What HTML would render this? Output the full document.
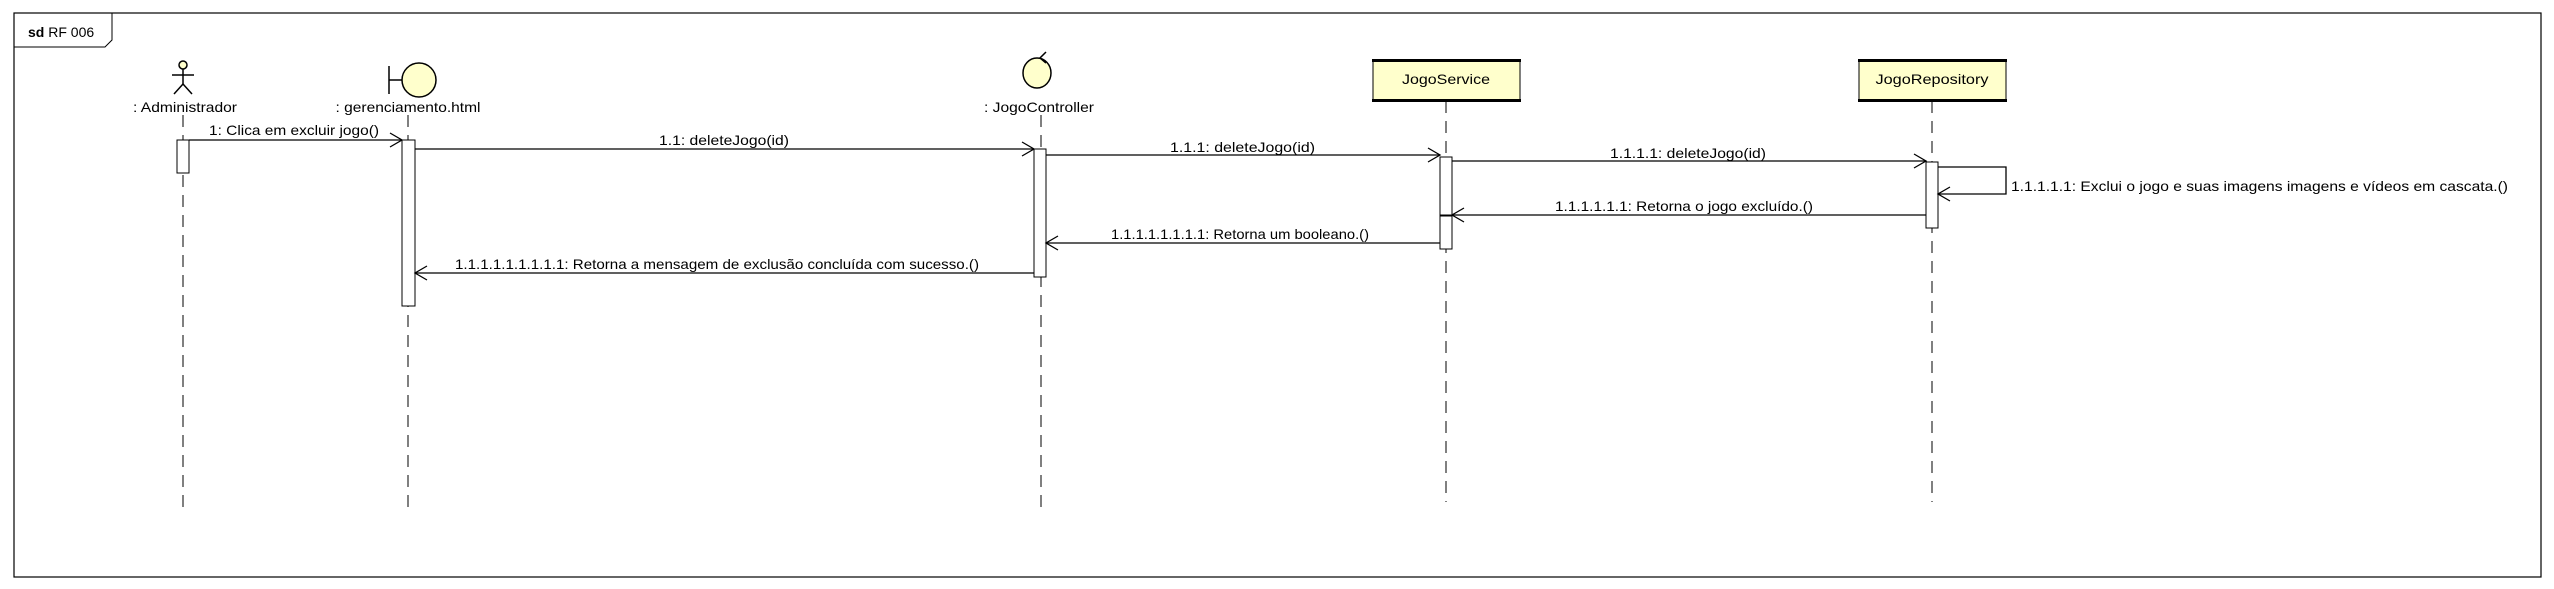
<!DOCTYPE html>
<html><head><meta charset="utf-8"><style>
html,body{margin:0;padding:0;background:#fff;}
svg{display:block;}
text{font-family:"Liberation Sans",sans-serif;font-size:14px;fill:#000;}
</style></head><body>
<svg width="2554" height="589" viewBox="0 0 2554 589" xmlns="http://www.w3.org/2000/svg">
<rect x="0" y="0" width="2554" height="589" fill="#fff"/>
<!-- frame -->
<rect x="14" y="13" width="2527" height="564" fill="none" stroke="#000" stroke-width="1.2"/>
<polyline points="14,47 105,47 112,40 112,13" fill="none" stroke="#000" stroke-width="1"/>
<text x="28" y="37" font-size="14"><tspan font-weight="bold">sd</tspan> RF 006</text>

<!-- lifelines -->
<g stroke="#000" stroke-width="1" stroke-dasharray="12,8" fill="none">
<line x1="183" y1="115" x2="183" y2="513"/>
<line x1="408" y1="115" x2="408" y2="513"/>
<line x1="1041" y1="115" x2="1041" y2="513"/>
<line x1="1446" y1="101" x2="1446" y2="502"/>
<line x1="1932" y1="101" x2="1932" y2="502"/>
</g>

<!-- actor -->
<g stroke="#000" stroke-width="1.5" fill="none">
<circle cx="183" cy="65" r="4" fill="#ffffcc"/>
<line x1="183" y1="69" x2="183" y2="84"/>
<line x1="172" y1="75" x2="194" y2="75"/>
<line x1="183" y1="84" x2="174" y2="94"/>
<line x1="183" y1="84" x2="192" y2="94"/>
</g>
<text x="185" y="112" text-anchor="middle" textLength="104" lengthAdjust="spacingAndGlyphs">: Administrador</text>

<!-- boundary -->
<g stroke="#000" stroke-width="1.5">
<line x1="389" y1="66" x2="389" y2="94"/>
<line x1="389" y1="80" x2="402" y2="80"/>
<circle cx="419" cy="80" r="17" fill="#ffffcc"/>
</g>
<text x="408" y="112" text-anchor="middle" textLength="145" lengthAdjust="spacingAndGlyphs">: gerenciamento.html</text>

<!-- control -->
<g stroke="#000" stroke-width="1.5" fill="#ffffcc">
<ellipse cx="1037" cy="73" rx="14" ry="15"/>
<polyline points="1046,52 1040,58 1046,63" fill="none"/>
</g>
<text x="1039" y="112" text-anchor="middle" textLength="110" lengthAdjust="spacingAndGlyphs">: JogoController</text>

<!-- boxes -->
<rect x="1373" y="60" width="147" height="41" fill="#ffffcc" stroke="#000" stroke-width="1"/>
<rect x="1372" y="59" width="149" height="3" fill="#000"/>
<rect x="1372" y="99" width="149" height="3" fill="#000"/>
<text x="1446" y="84" text-anchor="middle" textLength="88" lengthAdjust="spacingAndGlyphs">JogoService</text>
<rect x="1859" y="60" width="147" height="41" fill="#ffffcc" stroke="#000" stroke-width="1"/>
<rect x="1858" y="59" width="149" height="3" fill="#000"/>
<rect x="1858" y="99" width="149" height="3" fill="#000"/>
<text x="1932" y="84" text-anchor="middle" textLength="113" lengthAdjust="spacingAndGlyphs">JogoRepository</text>

<!-- activations -->
<g fill="#fff" stroke="#000" stroke-width="1">
<rect x="177" y="140" width="12" height="33"/>
<rect x="402" y="140" width="13" height="166"/>
<rect x="1034" y="149" width="12" height="128"/>
<rect x="1440" y="157" width="12" height="58"/>
<rect x="1440" y="216" width="12" height="33"/>
<rect x="1926" y="162" width="12" height="66"/>
</g>

<!-- messages -->
<g stroke="#000" stroke-width="1.3" fill="none">
<line x1="189" y1="140" x2="402" y2="140"/>
<polyline points="390,133 402,140 390,147"/>
<line x1="415" y1="149" x2="1034" y2="149"/>
<polyline points="1022,142 1034,149 1022,156"/>
<line x1="1046" y1="155" x2="1440" y2="155"/>
<polyline points="1428,148 1440,155 1428,162"/>
<line x1="1452" y1="161" x2="1926" y2="161"/>
<polyline points="1914,154 1926,161 1914,168"/>
<polyline points="1938,167 2006,167 2006,194 1938,194"/>
<polyline points="1950,187 1938,194 1950,201"/>
<line x1="1926" y1="215" x2="1452" y2="215"/>
<polyline points="1464,208 1452,215 1464,222"/>
<line x1="1440" y1="243" x2="1046" y2="243"/>
<polyline points="1058,236 1046,243 1058,250"/>
<line x1="1034" y1="273" x2="415" y2="273"/>
<polyline points="427,266 415,273 427,280"/>
</g>

<!-- labels -->
<text x="209" y="135" textLength="170" lengthAdjust="spacingAndGlyphs">1: Clica em excluir jogo()</text>
<text x="659" y="145" textLength="130" lengthAdjust="spacingAndGlyphs">1.1: deleteJogo(id)</text>
<text x="1170" y="152" textLength="145" lengthAdjust="spacingAndGlyphs">1.1.1: deleteJogo(id)</text>
<text x="1610" y="158" textLength="156" lengthAdjust="spacingAndGlyphs">1.1.1.1: deleteJogo(id)</text>
<text x="2011" y="191" textLength="497" lengthAdjust="spacingAndGlyphs">1.1.1.1.1: Exclui o jogo e suas imagens imagens e vídeos em cascata.()</text>
<text x="1555" y="211" textLength="258" lengthAdjust="spacingAndGlyphs">1.1.1.1.1.1: Retorna o jogo excluído.()</text>
<text x="1111" y="239" textLength="258" lengthAdjust="spacingAndGlyphs">1.1.1.1.1.1.1.1: Retorna um booleano.()</text>
<text x="455" y="269" textLength="524" lengthAdjust="spacingAndGlyphs">1.1.1.1.1.1.1.1.1: Retorna a mensagem de exclusão concluída com sucesso.()</text>
</svg>
</body></html>
